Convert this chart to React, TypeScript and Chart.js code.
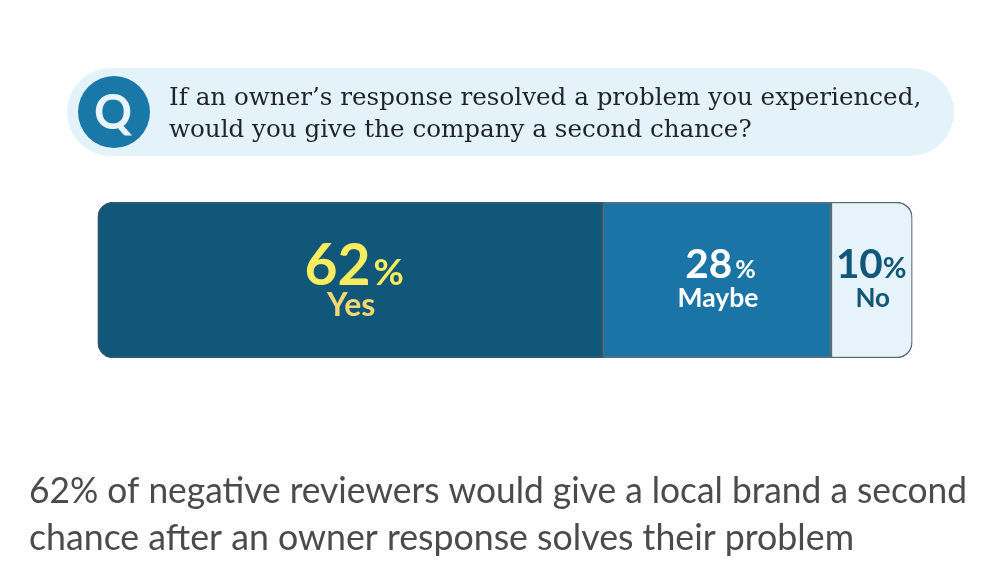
import { useEffect, useRef } from "react";
import { Chart, registerables } from "chart.js";

Chart.register(...registerables);

const categories = ["Response"];
const answers = ["Yes", "Maybe", "No"];
const shares = [62, 28, 10];
const fills = ["#10577a", "#1a74a6", "#e6f3fa"];
const labelColors = ["#f9ec5e", "#ffffff", "#10577a"];
const answerColors = ["#f5d772", "#ffffff", "#10577a"];
const numberSizes = [57, 40.5, 40.5];
const percentSizes = [37, 25, 29];
const answerSizes = [32, 26.5, 26];
const numberBaselines = [285, 278, 278];
const answerBaselines = [316, 307, 307];
const labelShifts = [4, 3.5, -0.5];
const labelGaps = [3, 3, 0];
const questionLines = [
  "If an owner’s response resolved a problem you experienced,",
  "would you give the company a second chance?",
];
const captionLines = [
  "62% of negative reviewers would give a local brand a second",
  "chance after an owner response solves their problem",
];
const captionWidths = [938, 825];

const decorPlugin = {
  id: "decor",
  beforeDraw(chart: Chart) {
    const { ctx } = chart;
    ctx.save();
    ctx.fillStyle = "#e4f2fa";
    ctx.beginPath();
    ctx.roundRect(67, 68, 887, 88, 44);
    ctx.fill();
    ctx.fillStyle = "#1a78a8";
    ctx.beginPath();
    ctx.arc(114, 112, 36, 0, Math.PI * 2);
    ctx.fill();
    ctx.fillStyle = "#e9f5fb";
    ctx.font = "700 47px Lato";
    ctx.textAlign = "center";
    ctx.textBaseline = "alphabetic";
    ctx.fillText("Q", 113, 129);

    ctx.textAlign = "left";
    ctx.fillStyle = "#1f2427";
    ctx.font = "24.6px 'DejaVu Serif'";
    questionLines.forEach((line, i) => {
      ctx.fillText(line, 169, 105 + i * 32);
    });

    ctx.fillStyle = "#4a4b4d";
    ctx.font = "36px Lato";
    captionLines.forEach((line, i) => {
      ctx.fillText(line, 29, 503 + i * 47, captionWidths[i]);
    });
    ctx.restore();
  },
  afterDatasetsDraw(chart: Chart) {
    const { ctx } = chart;
    ctx.save();
    ctx.textBaseline = "alphabetic";
    chart.data.datasets.forEach((_, i) => {
      const bar = chart.getDatasetMeta(i).data[0] as any;
      const cx = (bar.base + bar.x) / 2;
      const number = String(shares[i]);
      const gap = labelGaps[i];

      ctx.font = `700 ${numberSizes[i]}px Lato`;
      const numberWidth = ctx.measureText(number).width;
      ctx.font = `700 ${percentSizes[i]}px Lato`;
      const percentWidth = ctx.measureText("%").width;
      const startX = cx + labelShifts[i] - (numberWidth + gap + percentWidth) / 2;

      ctx.textAlign = "left";
      ctx.fillStyle = labelColors[i];
      ctx.font = `700 ${numberSizes[i]}px Lato`;
      ctx.fillText(number, startX, numberBaselines[i]);
      ctx.font = `700 ${percentSizes[i]}px Lato`;
      ctx.fillText("%", startX + numberWidth + gap, numberBaselines[i]);

      ctx.textAlign = "center";
      ctx.fillStyle = answerColors[i];
      ctx.font = `700 ${answerSizes[i]}px Lato`;
      ctx.fillText(answers[i], cx + 1, answerBaselines[i]);
    });
    ctx.restore();
  },
};

const App = () => {
  const chartRef = useRef<HTMLCanvasElement | null>(null);

  useEffect(() => {
    if (!chartRef.current) return;

    const chartInstance = new Chart(chartRef.current, {
      type: "bar",
      data: {
        labels: categories,
        datasets: answers.map((answer, i) => ({
          label: answer,
          data: [shares[i]],
          backgroundColor: fills[i],
          borderColor: i === 0 ? "#38576a" : "#5c6a72",
          borderWidth: 1.5,
          borderSkipped: false,
          barPercentage: 1,
          categoryPercentage: 1,
          borderRadius:
            i === 0
              ? { topLeft: 16, bottomLeft: 16 }
              : i === 2
              ? { topRight: 16, bottomRight: 16 }
              : 0,
        })),
      },
      options: {
        indexAxis: "y",
        animation: false,
        responsive: false,
        layout: { padding: { left: 97.5, right: 87.5, top: 202, bottom: 227 } },
        plugins: { legend: { display: false }, tooltip: { enabled: false } },
        scales: {
          x: { stacked: true, min: 0, max: 100, display: false },
          y: { stacked: true, display: false },
        },
      },
      plugins: [decorPlugin],
    });

    return () => {
      chartInstance.destroy();
    };
  }, []);

  return (
    <div style={{ position: "absolute", left: 0, top: 0, width: 1000, height: 585, background: "#fff" }}>
      <canvas ref={chartRef} width={1000} height={585} style={{ display: "block" }}></canvas>
    </div>
  );
};

export default App;
